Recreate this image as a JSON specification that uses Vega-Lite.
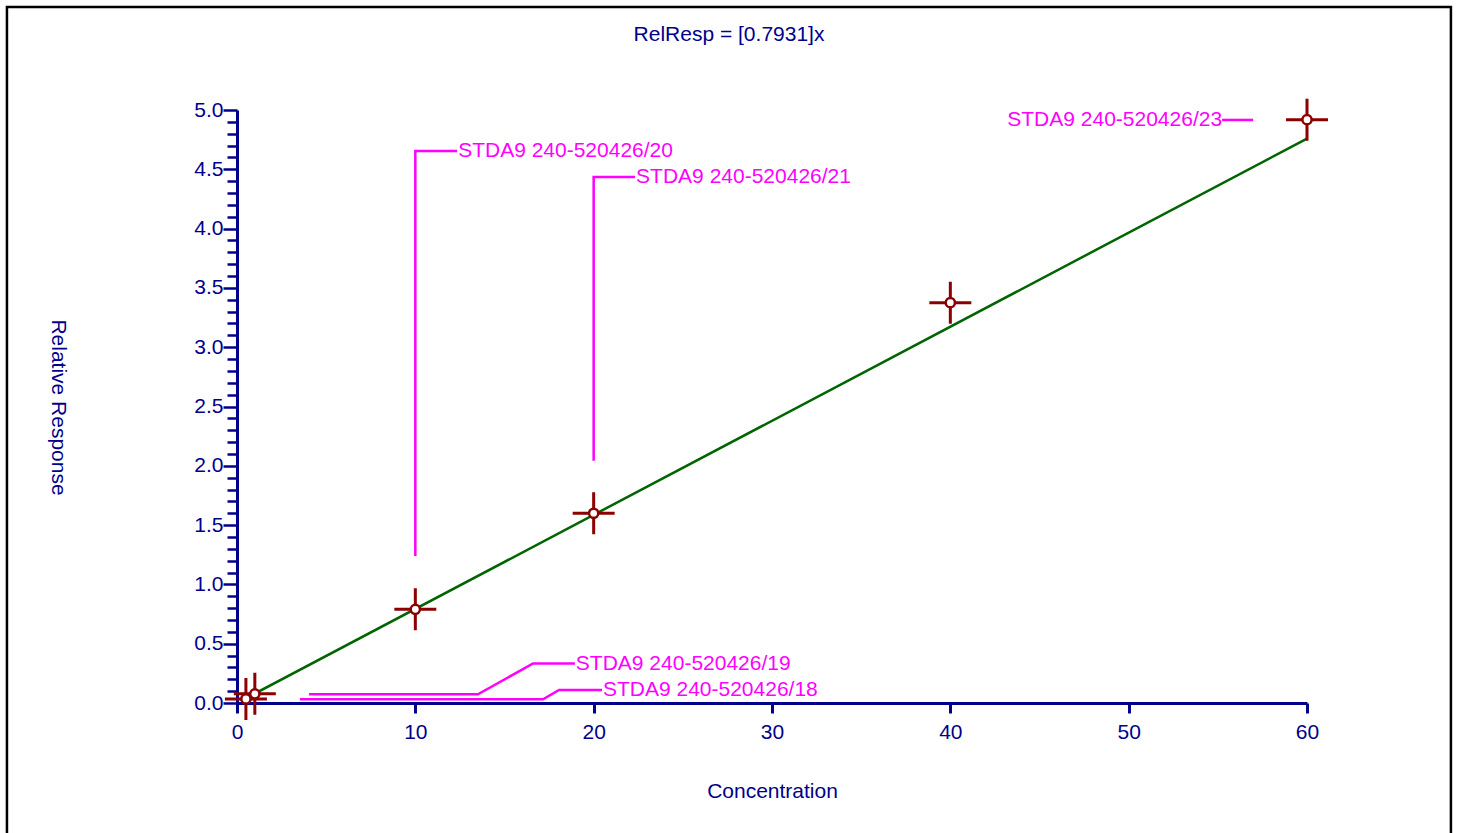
{
  "$schema": "https://vega.github.io/schema/vega-lite/v6.json",
  "width": 1070,
  "height": 593,
  "autosize": {"type": "none"},
  "padding": {"left": 237, "top": 110, "right": 150, "bottom": 130},
  "background": "white",
  "config": {
    "view": {"stroke": null},
    "font": "Liberation Sans",
    "axis": {"labelFont": "Liberation Sans", "titleFont": "Liberation Sans", "titleFontWeight": "normal"}
  },
  "title": {
    "text": "RelResp = [0.7931]x",
    "anchor": "middle",
    "frame": "group",
    "dx": -43,
    "dy": 50.5,
    "offset": 0,
    "baseline": "middle",
    "fontSize": 21,
    "fontWeight": "normal",
    "color": "#00008B",
    "font": "Liberation Sans"
  },
  "datasets": {
    "points": [
      {"conc": 0.5, "resp": 0.034},
      {"conc": 1.0, "resp": 0.077},
      {"conc": 10, "resp": 0.79},
      {"conc": 20, "resp": 1.60},
      {"conc": 40, "resp": 3.375},
      {"conc": 60, "resp": 4.918}
    ],
    "fit": [
      {"conc": 0.5, "resp": 0.0397},
      {"conc": 60, "resp": 4.759}
    ],
    "frame": [
      {"conc": -12.9, "conc2": 68.07, "resp": 5.868, "resp2": -1.4}
    ],
    "leaders": [
      {"id": "20", "seq": 1, "conc": 10, "resp": 1.239},
      {"id": "20", "seq": 2, "conc": 10, "resp": 4.654},
      {"id": "20", "seq": 3, "conc": 12.34, "resp": 4.654},
      {"id": "21", "seq": 1, "conc": 20, "resp": 2.043},
      {"id": "21", "seq": 2, "conc": 20, "resp": 4.435},
      {"id": "21", "seq": 3, "conc": 22.32, "resp": 4.435},
      {"id": "23", "seq": 1, "conc": 55.24, "resp": 4.916},
      {"id": "23", "seq": 2, "conc": 56.98, "resp": 4.916},
      {"id": "19", "seq": 1, "conc": 4.04, "resp": 0.073},
      {"id": "19", "seq": 2, "conc": 13.51, "resp": 0.073},
      {"id": "19", "seq": 3, "conc": 16.6, "resp": 0.333},
      {"id": "19", "seq": 4, "conc": 18.95, "resp": 0.333},
      {"id": "18", "seq": 1, "conc": 3.53, "resp": 0.031},
      {"id": "18", "seq": 2, "conc": 17.16, "resp": 0.031},
      {"id": "18", "seq": 3, "conc": 18.06, "resp": 0.11},
      {"id": "18", "seq": 4, "conc": 20.47, "resp": 0.11}
    ],
    "labels": [
      {"label": "STDA9 240-520426/20", "conc": 12.4, "resp": 4.654, "side": "left"},
      {"label": "STDA9 240-520426/21", "conc": 22.38, "resp": 4.435, "side": "left"},
      {"label": "STDA9 240-520426/19", "conc": 19.0, "resp": 0.333, "side": "left"},
      {"label": "STDA9 240-520426/18", "conc": 20.52, "resp": 0.11, "side": "left"},
      {"label": "STDA9 240-520426/23", "conc": 55.24, "resp": 4.916, "side": "right"}
    ]
  },
  "encoding": {
    "x": {
      "field": "conc",
      "type": "quantitative",
      "scale": {"domain": [0, 60], "nice": false, "zero": false},
      "axis": {
        "values": [0, 10, 20, 30, 40, 50, 60],
        "format": "d",
        "title": "Concentration",
        "grid": false,
        "domainColor": "#00008B",
        "domainWidth": 3,
        "tickColor": "#00008B",
        "tickWidth": 3,
        "tickSize": 10,
        "labelColor": "#00008B",
        "labelFontSize": 21,
        "labelPadding": 8,
        "labelFlush": false,
        "titleColor": "#00008B",
        "titleFontSize": 21,
        "titleX": 535,
        "titleY": 88,
        "titleAlign": "center",
        "titleBaseline": "middle"
      }
    },
    "y": {
      "field": "resp",
      "type": "quantitative",
      "scale": {"domain": [0, 5], "nice": false, "zero": false},
      "axis": {
        "values": [0, 0.1, 0.2, 0.3, 0.4, 0.5, 0.6, 0.7, 0.8, 0.9, 1.0, 1.1, 1.2, 1.3, 1.4, 1.5, 1.6, 1.7, 1.8, 1.9, 2.0, 2.1, 2.2, 2.3, 2.4, 2.5, 2.6, 2.7, 2.8, 2.9, 3.0, 3.1, 3.2, 3.3, 3.4, 3.5, 3.6, 3.7, 3.8, 3.9, 4.0, 4.1, 4.2, 4.3, 4.4, 4.5, 4.6, 4.7, 4.8, 4.9, 5.0],
        "labelExpr": "round(datum.value*10) % 5 === 0 ? format(datum.value, '.1f') : ''",
        "title": "Relative Response",
        "grid": false,
        "domainColor": "#00008B",
        "domainWidth": 3,
        "tickColor": "#00008B",
        "tickWidth": 2.5,
        "tickSize": {"condition": {"test": "round(datum.value*10) % 5 === 0", "value": 14}, "value": 10},
        "labelColor": "#00008B",
        "labelFontSize": 21,
        "labelPadding": 0,
        "labelFlush": false,
        "labelOverlap": false,
        "titleColor": "#00008B",
        "titleFontSize": 21,
        "titleAngle": 90,
        "titleX": -180,
        "titleY": 297,
        "titleAlign": "center",
        "titleBaseline": "middle"
      }
    }
  },
  "layer": [
    {
      "data": {"name": "frame"},
      "mark": {"type": "rect", "filled": false, "color": "black", "strokeWidth": 2.5, "clip": false},
      "encoding": {
        "x2": {"field": "conc2"},
        "y2": {"field": "resp2"}
      }
    },
    {
      "data": {"name": "fit"},
      "mark": {"type": "line", "color": "#006400", "strokeWidth": 2.5}
    },
    {
      "data": {"name": "leaders"},
      "mark": {"type": "line", "color": "#FF00FF", "strokeWidth": 2.5},
      "encoding": {
        "detail": {"field": "id"},
        "order": {"field": "seq", "type": "quantitative"}
      }
    },
    {
      "data": {"name": "labels"},
      "transform": [{"filter": "datum.side === 'left'"}],
      "mark": {"type": "text", "color": "#FF00FF", "fontSize": 21, "align": "left", "baseline": "middle", "font": "Liberation Sans"},
      "encoding": {"text": {"field": "label"}}
    },
    {
      "data": {"name": "labels"},
      "transform": [{"filter": "datum.side === 'right'"}],
      "mark": {"type": "text", "color": "#FF00FF", "fontSize": 21, "align": "right", "baseline": "middle", "font": "Liberation Sans"},
      "encoding": {"text": {"field": "label"}}
    },
    {
      "data": {"name": "points"},
      "mark": {"type": "point", "shape": "M-1,0L1,0M0,-1L0,1", "size": 1764, "filled": false, "stroke": "#8B0000", "strokeWidth": 3, "opacity": 1}
    },
    {
      "data": {"name": "points"},
      "mark": {"type": "point", "shape": "circle", "size": 85, "filled": true, "fill": "white", "stroke": "#8B0000", "strokeWidth": 2.5, "opacity": 1}
    }
  ]
}
